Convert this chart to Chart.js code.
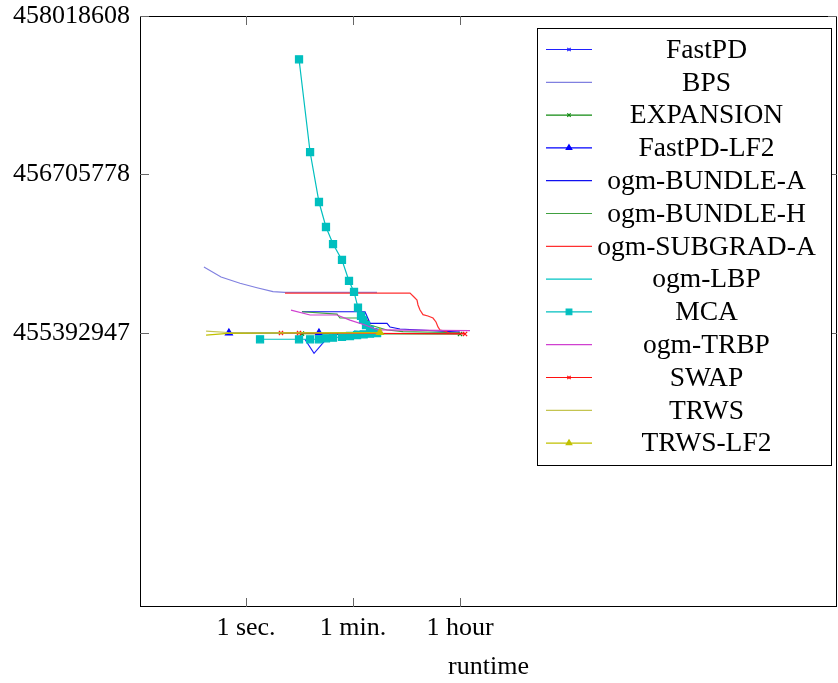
<!DOCTYPE html>
<html>
<head>
<meta charset="utf-8">
<script src="https://cdn.jsdelivr.net/npm/chart.js@4.4.1/dist/chart.umd.min.js"></script>
<style>
  html, body { margin: 0; padding: 0; background: #fff; }
  #wrap { width: 838px; height: 683px; }
</style>
</head>
<body>
<div id="wrap"><canvas id="chart" width="838" height="683"></canvas></div>
<script>
// x = runtime in seconds, y = energy
const xTickValues = [1, 60, 3600];
const xTickLabels = ['1 sec.', '1 min.', '1 hour'];
const yTickValues = [455392947, 456705778, 458018608];

const fastPD = [[9.5, 455341000], [13.5, 455225000], [20.5, 455329000], [28, 455380000], [60, 455388000], [160, 455390000]];
const bps = [[0.2, 455940000], [0.385, 455857000], [0.795, 455805000], [1.52, 455768000], [2.81, 455735000], [4.4, 455729000], [150, 455729000]];
const expansion = [[8.5, 455388000], [3589, 455385000]];
const fastPDLF2 = [[0.52, 455393000], [16.3, 455393000]];
const bundleA = [[8.5, 455569000], [94.8, 455569000], [115, 455473000], [220, 455473000], [247, 455442000], [361, 455426000], [3589, 455400000]];
const bundleH = [[8.5, 455569000], [32.5, 455550000], [36.4, 455517000], [98.5, 455517000], [115, 455459000], [220, 455418000], [405, 455404000], [3589, 455395000]];
const subgradA = [[4.44, 455724000], [530, 455724000], [618, 455691000], [693, 455666000], [720, 455625000], [777, 455583000], [871, 455545000], [1054, 455534000], [1277, 455517000], [1433, 455484000], [1546, 455443000], [1670, 455418000], [2023, 455409000], [2356, 455393000], [4345, 455390000]];
const lbp = [[62, 455410000], [168, 455395000]];
const mca = [[7.6, 457660000], [11.6, 456892000], [16.3, 456478000], [21.3, 456271000], [27.9, 456130000], [39.3, 455998000], [51.4, 455824000], [62.3, 455733000], [72.5, 455603000], [81.3, 455534000], [87.9, 455501000], [98.5, 455459000], [115, 455418000], [130, 455400000], [150, 455395000]];
const mcaLow = [[1.71, 455341000], [7.6, 455341000], [11.6, 455341000], [16.3, 455341000], [21.3, 455349000], [27.9, 455354000], [39.3, 455360000], [53.4, 455368000], [70, 455375000], [90, 455382000], [115, 455387000], [150, 455392000]];
const trbp = [[5.59, 455583000], [11.6, 455542000], [32.5, 455542000], [53.4, 455500000], [94.8, 455459000], [156, 455418000], [5260, 455412000]];
const swap = [[3.81, 455393000], [7.6, 455393000], [4345, 455385000]];
const trws = [[0.217, 455409000], [0.5, 455397000], [168, 455393000]];
const trwsLF2 = [[0.217, 455376000], [0.5, 455390000], [168, 455397000]];

const FONT = '"Liberation Serif", "Times New Roman", serif';

// label, data, colour, marker style, marker radius, marks drawn on the plot
const series = [
  ['FastPD', fastPD, '#2020ff', 'crossRot', 3, false],
  ['BPS', bps, '#8080e0', false, 0, false],
  ['EXPANSION', expansion, '#108a10', 'crossRot', 3, true],
  ['FastPD-LF2', fastPDLF2, '#0000ff', 'triangle', 4, true],
  ['ogm-BUNDLE-A', bundleA, '#1010f0', false, 0, false],
  ['ogm-BUNDLE-H', bundleH, '#40a040', false, 0, false],
  ['ogm-SUBGRAD-A', subgradA, '#ff3030', false, 0, false],
  ['ogm-LBP', lbp, '#00c4c4', false, 0, false],
  ['MCA', mca, '#00bfbf', 'rect', 5, true],
  ['ogm-TRBP', trbp, '#d040d0', false, 0, false],
  ['SWAP', swap, '#ff1010', 'crossRot', 3, true],
  ['TRWS', trws, '#c4c450', false, 0, false],
  ['TRWS-LF2', trwsLF2, '#c0c000', 'triangle', 4, 'last']
];

const datasets = series.map(([label, data, color, marker, r, onPlot], i) => ({
  label,
  data: data.map(([x, y]) => ({ x, y })),
  borderColor: color,
  backgroundColor: color,
  borderWidth: 1.2,
  pointStyle: marker || 'circle',
  pointRadius: onPlot === 'last' ? (c => c.dataIndex === data.length - 1 ? r : 0) : (onPlot ? r : 0),
  pointBorderWidth: 1.2,
  tension: 0,
  order: series.length - i,
  legendMarker: marker,
  legendRadius: r
}));
// second piece of MCA, same style, not in the legend
datasets.push({
  label: 'MCA',
  data: mcaLow.map(([x, y]) => ({ x, y })),
  borderColor: '#00bfbf',
  backgroundColor: '#00bfbf',
  borderWidth: 1.2,
  pointStyle: 'rect',
  pointRadius: 5,
  order: 5,
  hideInLegend: true
});

const frameAndLegend = {
  id: 'frameAndLegend',
  afterDraw(chart) {
    const { ctx, chartArea: a, scales: { x, y } } = chart;
    ctx.save();
    ctx.strokeStyle = '#000';
    ctx.lineWidth = 1;
    ctx.strokeRect(a.left + 0.5, a.top + 0.5, a.right - a.left - 1, a.bottom - a.top - 1);

    ctx.strokeStyle = '#666';
    ctx.beginPath();
    xTickValues.forEach(v => {
      const px = Math.round(x.getPixelForValue(v)) + 0.5;
      ctx.moveTo(px, a.bottom); ctx.lineTo(px, a.bottom - 9);
      ctx.moveTo(px, a.top); ctx.lineTo(px, a.top + 9);
    });
    yTickValues.forEach(v => {
      const py = Math.round(y.getPixelForValue(v)) + 0.5;
      ctx.moveTo(a.left, py); ctx.lineTo(a.left + 9, py);
      ctx.moveTo(a.right, py); ctx.lineTo(a.right - 9, py);
    });
    ctx.stroke();

    // legend box
    const box = { l: 537.5, t: 28.5, r: 831.5, b: 465.5 };
    ctx.fillStyle = '#fff';
    ctx.fillRect(box.l, box.t, box.r - box.l, box.b - box.t);
    ctx.strokeStyle = '#000';
    ctx.strokeRect(box.l, box.t, box.r - box.l, box.b - box.t);

    ctx.font = '27.5px ' + FONT;
    ctx.textAlign = 'center';
    ctx.textBaseline = 'middle';
    chart.data.datasets.filter(d => !d.hideInLegend).forEach((d, i) => {
      const ly = 49.5 + i * 32.8;
      ctx.strokeStyle = d.borderColor;
      ctx.lineWidth = 1.2;
      ctx.beginPath();
      ctx.moveTo(546, ly); ctx.lineTo(592, ly);
      ctx.stroke();
      if (d.legendMarker) {
        ctx.fillStyle = d.borderColor;
        Chart.helpers.drawPoint(ctx, {
          pointStyle: d.legendMarker,
          radius: d.legendRadius * 0.8,
          rotation: 0,
          borderWidth: 1.2
        }, 569, ly);
      }
      ctx.fillStyle = '#000';
      ctx.fillText(d.label, 706.5, ly + 1);
    });
    ctx.restore();
  }
};

new Chart(document.getElementById('chart'), {
  type: 'line',
  data: { datasets },
  options: {
    responsive: false,
    animation: false,
    layout: { autoPadding: false, padding: { top: 16, right: 1, left: 0, bottom: 0 } },
    plugins: { legend: { display: false }, tooltip: { enabled: false } },
    scales: {
      x: {
        type: 'logarithmic',
        min: 0.01734,
        max: 6.57e9,
        afterBuildTicks: s => { s.ticks = xTickValues.map(value => ({ value })); },
        afterFit: s => { s.height = 76; s.paddingLeft = 0; s.paddingRight = 0; },
        grid: { display: false, drawTicks: false },
        border: { display: false },
        ticks: {
          autoSkip: false,
          maxRotation: 0,
          padding: 6,
          color: '#000',
          font: { family: FONT, size: 26 },
          callback: v => xTickLabels[xTickValues.indexOf(v)]
        },
        title: {
          display: true,
          text: 'runtime',
          color: '#000',
          font: { family: FONT, size: 26 },
          padding: { top: 0, bottom: 0 }
        }
      },
      y: {
        min: 453123405,
        max: 458018608,
        afterBuildTicks: s => { s.ticks = yTickValues.map(value => ({ value })); },
        afterFit: s => { s.width = 140; s.paddingTop = 0; s.paddingBottom = 0; },
        grid: { display: false, drawTicks: false },
        border: { display: false },
        ticks: {
          padding: 10,
          color: '#000',
          font: { family: FONT, size: 26 },
          callback: v => String(v)
        }
      }
    }
  },
  plugins: [frameAndLegend]
});
</script>
</body>
</html>
